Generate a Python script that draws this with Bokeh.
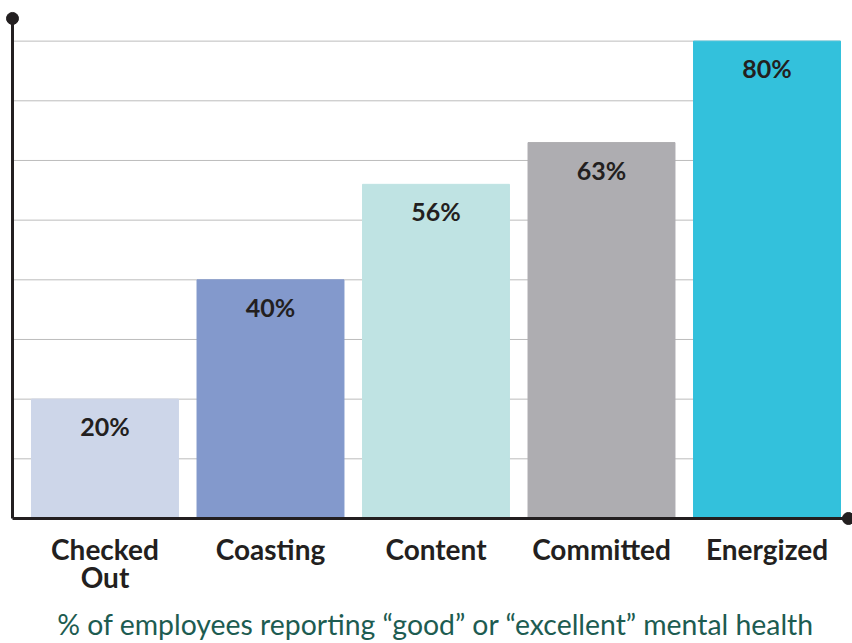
from bokeh.plotting import figure
from bokeh.models import Range1d, ColumnDataSource
from bokeh.core.properties import value
from bokeh.embed import file_html
from bokeh.resources import INLINE

categories = ["Checked\nOut", "Coasting", "Content", "Committed", "Energized"]
values = [20, 40, 56, 63, 80]
labels = ["20%", "40%", "56%", "63%", "80%"]
colors = ["#cdd6e9", "#8399cc", "#bfe3e3", "#aeadb1", "#33c1dc"]
grid_ticks = [10, 20, 30, 40, 50, 60, 70, 80]
subtitle = "% of employees reporting \u201cgood\u201d or \u201cexcellent\u201d mental health"

xpos = list(range(len(categories)))
FONT = "Lato"
DARK = "#231f20"
BAR_W = 0.888
# plot area (data units) — the frame covers the whole figure
X0, X1 = -0.6314, 4.5166
Y0, Y1 = -20.95, 86.81
AXIS_X, AXIS_TOP, AXIS_RIGHT = -0.5589, 83.8, 4.492

p = figure(width=852, height=643, output_backend="svg", toolbar_location=None,
           x_range=Range1d(X0, X1), y_range=Range1d(Y0, Y1),
           x_axis_location=None, y_axis_location=None, min_border=0)
p.outline_line_color = None
p.grid.visible = False

# horizontal grid lines, ending at the right edge of the last bar
n = len(grid_ticks)
p.segment(x0=[AXIS_X] * n, x1=[xpos[-1] + BAR_W / 2] * n,
          y0=grid_ticks, y1=grid_ticks, line_color="#bdbdbd", line_width=1)

src = ColumnDataSource(dict(x=xpos, top=values, color=colors, label=labels,
                            cat=categories))
p.vbar(x="x", top="top", bottom=0, width=BAR_W, color="color", source=src)

# value labels inside bars
p.text(x="x", y="top", text="label", source=src, text_align="center",
       text_baseline="middle", y_offset=27, text_color=DARK,
       text_font=value(FONT), text_font_size="25px", text_font_style="bold")

# axes lines with end dots
p.segment(x0=[AXIS_X], y0=[0], x1=[AXIS_X], y1=[AXIS_TOP], line_color=DARK, line_width=3)
p.segment(x0=[AXIS_X], y0=[0], x1=[AXIS_RIGHT], y1=[0], line_color=DARK, line_width=3)
p.scatter(x=[AXIS_X], y=[AXIS_TOP], size=12, color=DARK)
p.scatter(x=[AXIS_RIGHT], y=[0], size=12, color=DARK)

# category labels
p.text(x="x", y=0, text="cat", source=src, text_align="center",
       text_baseline="top", y_offset=14, text_color=DARK,
       text_font=value(FONT), text_font_size="28px", text_font_style="bold",
       text_line_height=0.8)

# subtitle
p.text(x=[xpos[2]], y=[0], text=[subtitle], text_align="center",
       text_baseline="alphabetic", y_offset=106, text_color="#1d5c51",
       text_font=value(FONT), text_font_size="28.4px")

open("out.html", "w").write(file_html(p, INLINE))
